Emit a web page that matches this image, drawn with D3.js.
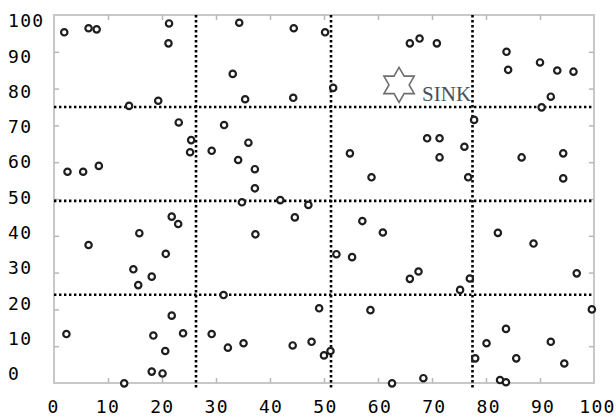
<!DOCTYPE html>
<html>
<head>
<meta charset="utf-8">
<script src="https://cdn.jsdelivr.net/npm/d3@7"></script>
<style>
  body { margin: 0; background: #fff; }
  svg { display: block; }
</style>
</head>
<body>
<div id="graph"></div>
<script>
// node positions
var nodeX = [1.9, 6.4, 7.9, 21.3, 21.2, 13.9, 19.3, 23.1, 25.4, 25.2, 2.5, 5.4, 8.3,
    34.3, 44.4, 50.2, 33.1, 51.7, 35.4, 44.3, 31.5, 36.0, 29.2, 34.1, 37.2, 37.2, 54.8, 58.8, 34.8, 41.9, 47.1,
    65.9, 67.7, 70.9, 83.8, 84.1, 90.0, 93.2, 96.2, 92.0, 90.3, 77.8, 69.1, 71.4, 71.4, 76.0, 86.6, 94.3, 94.3, 76.7,
    21.8, 23.0, 6.4, 15.8, 20.7, 14.7, 18.1, 15.6, 2.3, 21.8, 23.9, 18.4, 20.6, 18.1, 20.1, 13.0,
    44.6, 37.3, 57.1, 60.9, 52.3, 55.2, 31.4, 49.1, 58.6, 29.2, 32.2, 35.1, 44.2, 47.7, 50.0, 51.2, 62.6,
    65.9, 67.5, 77.0, 75.2, 82.2, 88.8, 96.8, 99.6, 83.7, 80.1, 92.0, 78.0, 85.6, 94.5, 68.4, 82.6, 83.7]
var nodeY = [95.3, 96.4, 96.1, 97.7, 92.3, 75.3, 76.7, 70.8, 66.0, 62.7, 57.4, 57.4, 59.0,
    97.9, 96.4, 95.3, 84.0, 80.2, 77.1, 77.5, 70.1, 65.3, 63.1, 60.6, 58.1, 52.9, 62.4, 55.9, 49.1, 49.7, 48.4,
    92.3, 93.6, 92.3, 90.0, 85.1, 87.1, 84.9, 84.6, 77.8, 74.9, 71.5, 66.5, 66.5, 61.3, 64.2, 61.3, 62.4, 55.6, 55.9,
    45.2, 43.2, 37.5, 40.7, 35.1, 30.9, 28.9, 26.6, 13.3, 18.3, 13.5, 12.9, 8.7, 3.1, 2.6, -0.1,
    45.0, 40.4, 44.0, 40.9, 35.0, 34.2, 23.9, 20.3, 19.8, 13.3, 9.6, 10.8, 10.2, 11.2, 7.5, 8.7, -0.1,
    28.3, 30.3, 28.4, 25.3, 40.8, 37.9, 29.8, 20.0, 14.7, 10.8, 11.2, 6.7, 6.7, 5.3, 1.3, 0.8, 0.2]

var gridX = [26.3, 51.3, 77.5]
var gridY = [24, 49.5, 75]

var sinkX = [63.9]
var sinkY = [81]
var sinkLabel = ["SINK"]

var tickLabels = [0, 10, 20, 30, 40, 50, 60, 70, 80, 90, 100]

const width = 616, height = 418

const svg = d3.select("#graph")
    .append("svg")
        .attr("width", width)
        .attr("height", height)

const x = d3.scaleLinear().domain([0, 100]).range([54, 594])
const y = d3.scaleLinear().domain([0, 100]).range([383, 15])

// the tick labels sit a little off the plot scale in the picture
const xLab = d3.scaleLinear().domain([0, 100]).range([53, 597])
const yLab = d3.scaleLinear().domain([0, 100]).range([374, 21])

// frame
svg.append("rect")
    .attr("x", x(0)).attr("y", y(100))
    .attr("width", x(100) - x(0)).attr("height", y(0) - y(100))
    .attr("fill", "none")
    .attr("stroke", "#c8c8c8")
    .attr("stroke-width", 2)

// small inward ticks on all sides
const inner = d3.range(10, 100, 10)
function ticks(axis, tx, ty) {
    const g = svg.append("g")
        .attr("transform", `translate(${tx}, ${ty})`)
        .call(axis.tickValues(inner).tickSizeInner(-5).tickSizeOuter(0).tickFormat(""))
    g.select(".domain").remove()
    g.selectAll("line").attr("stroke", "#b8b8b8").attr("stroke-width", 1.5)
}
ticks(d3.axisBottom(x), 0, y(0))
ticks(d3.axisTop(x), 0, y(100))
ticks(d3.axisLeft(y), x(0), 0)
ticks(d3.axisRight(y), x(100), 0)

// dotted dividers
svg.append("g").selectAll("line")
    .data(gridX)
    .enter().append("line")
        .attr("x1", d => x(d)).attr("x2", d => x(d))
        .attr("y1", y(100)).attr("y2", y(0) + 5)
        .attr("stroke", "#000")
        .attr("stroke-width", 2.6)
        .attr("stroke-dasharray", "2.4,2.6")

svg.append("g").selectAll("line")
    .data(gridY)
    .enter().append("line")
        .attr("x1", x(0)).attr("x2", x(100))
        .attr("y1", d => y(d)).attr("y2", d => y(d))
        .attr("stroke", "#000")
        .attr("stroke-width", 2.6)
        .attr("stroke-dasharray", "2.4,2.6")

// tick labels
const xg = svg.append("g")
    .attr("transform", `translate(0, 400)`)
    .call(d3.axisBottom(xLab).tickValues(tickLabels).tickSize(0))
xg.select(".domain").remove()
xg.selectAll("text")
    .attr("dy", "0.71em")
    .attr("y", 0)

const yg = svg.append("g")
    .call(d3.axisLeft(yLab).tickValues(tickLabels).tickSize(0))
yg.select(".domain").remove()
yg.selectAll("text")
    .attr("x", 8)
    .attr("text-anchor", "start")

svg.selectAll(".tick text")
    .style("font-family", "'DejaVu Sans Mono', monospace")
    .style("font-size", "18px")
    .style("letter-spacing", "1.3px")
    .attr("fill", "#000")

// nodes
svg.append("g").selectAll("circle")
    .data(nodeX.map((v, i) => [v, nodeY[i]]))
    .enter().append("circle")
        .attr("cx", d => x(d[0]))
        .attr("cy", d => y(d[1]))
        .attr("r", 3.2)
        .attr("fill", "#fff")
        .attr("stroke", "#1e1e1e")
        .attr("stroke-width", 2.2)

// six pointed star for the sink
const hexStar = {
    draw(context, size) {
        const R = Math.sqrt(size) / 2, r = R / Math.sqrt(3)
        for (let i = 0; i < 12; i++) {
            const a = -Math.PI / 2 + i * Math.PI / 6
            const rad = i % 2 ? r : R
            if (i == 0) context.moveTo(rad * Math.cos(a), rad * Math.sin(a))
            else context.lineTo(rad * Math.cos(a), rad * Math.sin(a))
        }
        context.closePath()
    }
}

svg.append("path")
    .datum([sinkX[0], sinkY[0]])
    .attr("transform", d => `translate(${x(d[0])}, ${y(d[1])})`)
    .attr("d", d3.symbol().type(hexStar).size(35 * 35))
    .attr("fill", "#fff")
    .attr("stroke", "#6e6e6e")
    .attr("stroke-width", 1.6)

svg.append("text")
    .attr("x", x(sinkX[0]) + 23)
    .attr("y", y(sinkY[0]) + 16)
    .style("font-family", "'Liberation Serif', serif")
    .style("font-size", "21px")
    .attr("fill", "#46505e")
    .text(sinkLabel[0])
</script>
</body>
</html>
